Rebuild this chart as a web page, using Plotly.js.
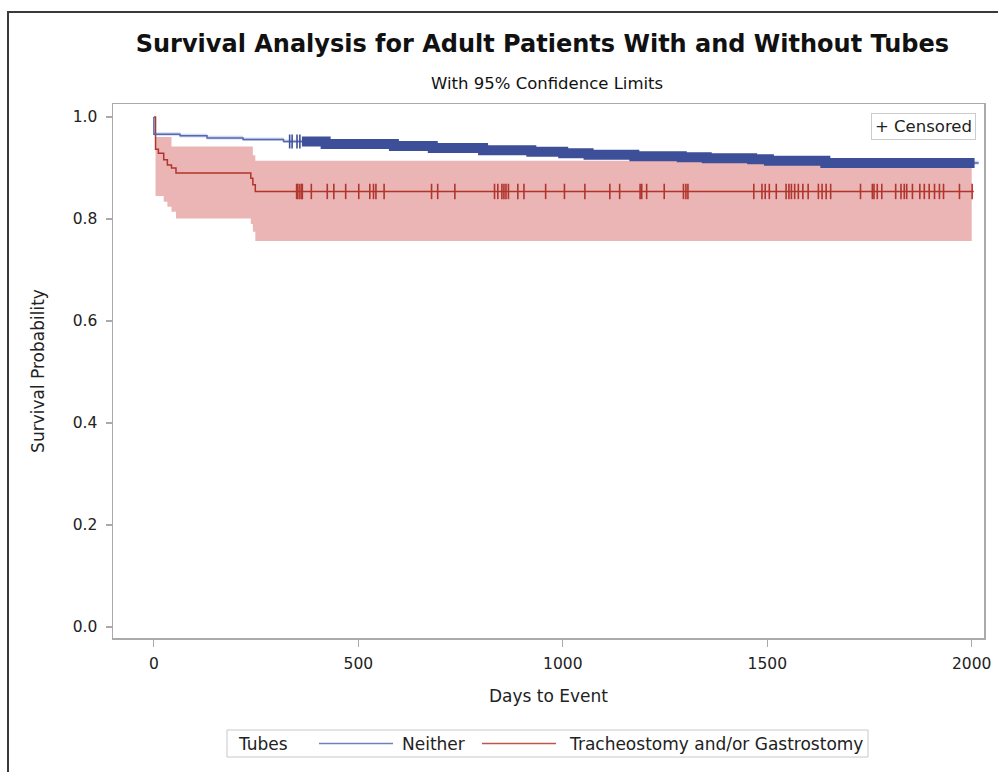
<!DOCTYPE html>
<html>
<head>
<meta charset="utf-8">
<script src="https://cdn.plot.ly/plotly-3.0.1.min.js"></script>
<style>
  html, body { margin: 0; padding: 0; background: #fff; }
  #wrap { position: relative; width: 998px; height: 772px; overflow: hidden; }
  #chart { width: 998px; height: 772px; }
  #frame { position: absolute; left: 7px; top: 11px; width: 1200px; height: 900px;
           border-left: 2px solid #3a3a3a; border-top: 2px solid #3a3a3a; pointer-events: none; }
</style>
</head>
<body>
<div id="wrap"><div id="chart"></div><div id="frame"></div></div>
<script>
// ---- Tracheostomy and/or Gastrostomy (red) ----
const redTime  = [0, 4, 11, 24, 33, 43, 54, 237, 242, 248];
const redSurv  = [1.0, 0.937, 0.929, 0.916, 0.906, 0.900, 0.890, 0.880, 0.867, 0.854];
const redUpper = [1.0, 0.961, 0.961, 0.961, 0.961, 0.942, 0.942, 0.942, 0.925, 0.914];
const redLower = [1.0, 0.845, 0.845, 0.834, 0.824, 0.814, 0.801, 0.790, 0.775, 0.757];
const redBandEnd = 2000;
const redLineEnd = 2005;
const redCensor = [349, 352, 357, 362, 363, 385, 424, 440, 469, 501, 528, 537, 543, 563,
  679, 694, 736, 833, 841, 851, 856, 861, 867, 890, 905, 958, 1004, 1054, 1115, 1139,
  1189, 1193, 1205, 1248, 1295, 1301, 1306, 1467, 1487, 1495, 1505, 1522, 1546, 1553,
  1559, 1567, 1576, 1587, 1600, 1625, 1634, 1644, 1655, 1728, 1757, 1761, 1769, 1780,
  1814, 1827, 1835, 1841, 1855, 1873, 1884, 1896, 1909, 1921, 1931, 1970, 2001];

// ---- Neither (blue) ----
const blueTime  = [0, 0, 64, 130, 218, 317, 420, 587, 682, 805, 923, 1001, 1063, 1175, 1291, 1352, 1463, 1504, 1642];
const blueSurv  = [1.0, 0.966, 0.963, 0.959, 0.956, 0.952, 0.947, 0.943, 0.939, 0.935, 0.932, 0.929, 0.926, 0.923, 0.921, 0.919, 0.917, 0.914, 0.910];
const blueUpper = [1.0, 0.970, 0.967, 0.963, 0.960, 0.956, 0.951, 0.947, 0.943, 0.939, 0.936, 0.933, 0.930, 0.927, 0.925, 0.923, 0.921, 0.918, 0.914];
const blueLower = [1.0, 0.963, 0.960, 0.956, 0.953, 0.949, 0.944, 0.940, 0.936, 0.932, 0.929, 0.926, 0.923, 0.920, 0.918, 0.916, 0.914, 0.911, 0.907];
const blueLineEnd = 2017;
const blueCensorSparse = [332, 338, 350, 357];
const blueDenseCensorFrom = 362;   // censor marks are continuous from here on
const blueDenseCensorTo = 2007;

// ---- Text ----
const titleText = "Survival Analysis for Adult Patients With and Without Tubes";
const subtitleText = "With 95% Confidence Limits";
const xTitle = "Days to Event";
const yTitle = "Survival Probability";
const legendTitle = "Tubes";
const groupNames = ["Neither", "Tracheostomy and/or Gastrostomy"];
const xTicks = [0, 500, 1000, 1500, 2000];
const yTicks = [0.0, 0.2, 0.4, 0.6, 0.8, 1.0];

function stepAt(times, vals, t) {
  let v = vals[0];
  for (let i = 0; i < times.length; i++) { if (times[i] <= t) v = vals[i]; }
  return v;
}
function extend(times, vals, tEnd) {
  return { x: times.concat([tEnd]), y: vals.concat([vals[vals.length - 1]]) };
}
function segment(times, vals, t0, t1) {
  const x = [t0], y = [stepAt(times, vals, t0)];
  for (let i = 0; i < times.length; i++) {
    if (times[i] > t0 && times[i] < t1) { x.push(times[i]); y.push(vals[i]); }
  }
  x.push(t1); y.push(stepAt(times, vals, t1));
  return { x, y };
}

const BLUE = "#3d4f98";
const BLUE_THIN = "#5469b3";
const BLUE_LEG = "#6f82c0";
const RED = "#b0352b";
const RED_LEG = "#c0554c";

const rl = extend(redTime, redLower, redBandEnd);
const ru = extend(redTime, redUpper, redBandEnd);
const bl = extend(blueTime, blueLower, blueLineEnd);
const bu = extend(blueTime, blueUpper, blueLineEnd);
const rs = extend(redTime, redSurv, redLineEnd);
const bs = extend(blueTime, blueSurv, blueLineEnd);
const bd = segment(blueTime, blueSurv, blueDenseCensorFrom, blueDenseCensorTo);

const traces = [
  { x: rl.x, y: rl.y, mode: "lines", line: { shape: "hv", width: 0 }, hoverinfo: "skip" },
  { x: ru.x, y: ru.y, mode: "lines", line: { shape: "hv", width: 0 }, fill: "tonexty",
    fillcolor: "rgba(220,120,120,0.55)", hoverinfo: "skip" },
  { x: bl.x, y: bl.y, mode: "lines", line: { shape: "hv", width: 0 }, hoverinfo: "skip" },
  { x: bu.x, y: bu.y, mode: "lines", line: { shape: "hv", width: 0 }, fill: "tonexty",
    fillcolor: "rgba(150,170,220,0.45)", hoverinfo: "skip" },
  { x: rs.x, y: rs.y, mode: "lines", name: groupNames[1], line: { shape: "hv", width: 1.5, color: RED } },
  { x: bs.x, y: bs.y, mode: "lines", name: groupNames[0], line: { shape: "hv", width: 1.5, color: BLUE_THIN } },
  { x: bd.x, y: bd.y, mode: "lines", line: { shape: "hv", width: 10, color: BLUE }, hoverinfo: "skip" },
  { x: redCensor, y: redCensor.map(t => stepAt(redTime, redSurv, t)), mode: "markers",
    marker: { symbol: "line-ns", size: 11, line: { width: 1.6, color: RED } } },
  { x: blueCensorSparse, y: blueCensorSparse.map(t => stepAt(blueTime, blueSurv, t)), mode: "markers",
    marker: { symbol: "line-ns", size: 10, line: { width: 1.6, color: BLUE } } }
];

// paper-coordinate helpers for the legend block below the plot (plot area: x 113..984, y 104..638)
const PX = px => (px - 113) / 871;
const PY = py => (638 - py) / 534;
const legY = PY(743.5);
const legFont = { size: 17, color: "#222" };

const FONT = "DejaVu Sans, Liberation Sans, Arial, sans-serif";
const layout = {
  width: 998, height: 772,
  margin: { l: 113, r: 14, t: 104, b: 134 },
  paper_bgcolor: "#fff", plot_bgcolor: "#fff",
  showlegend: false,
  font: { family: FONT, size: 16, color: "#222" },
  title: { text: "<b>" + titleText + "</b>", font: { family: FONT, size: 24, color: "#111" },
           x: 0.5435, xanchor: "center", xref: "container", y: 1 - 44 / 772, yanchor: "middle", yref: "container" },
  xaxis: {
    range: [-100, 2030], tickvals: xTicks, ticktext: xTicks.map(String),
    showline: true, mirror: true, linecolor: "#aaaaaa", linewidth: 1.5,
    ticks: "outside", ticklen: 7, tickcolor: "#aaaaaa", tickwidth: 1.2, ticklabelstandoff: 4,
    showgrid: false, zeroline: false, tickfont: { size: 15.5, color: "#222" },
    title: { text: xTitle, font: { size: 17, color: "#222" }, standoff: 18 }
  },
  yaxis: {
    range: [-0.0216, 1.0255], tickvals: yTicks, ticktext: yTicks.map(v => v.toFixed(1)),
    showline: true, mirror: true, linecolor: "#aaaaaa", linewidth: 1.5,
    ticks: "outside", ticklen: 6, tickcolor: "#aaaaaa", tickwidth: 1.2, ticklabelstandoff: 5,
    showgrid: false, zeroline: false, tickfont: { size: 15.5, color: "#222" },
    title: { text: yTitle, font: { size: 17, color: "#222" }, standoff: 24 }
  },
  shapes: [
    { type: "rect", xref: "paper", yref: "paper", x0: PX(227), x1: PX(868), y0: PY(730), y1: PY(757),
      line: { color: "#c8c8c8", width: 1 }, fillcolor: "#fff" },
    { type: "line", xref: "paper", yref: "paper", x0: PX(319), x1: PX(393), y0: legY, y1: legY,
      line: { color: BLUE_LEG, width: 1.5 } },
    { type: "line", xref: "paper", yref: "paper", x0: PX(482), x1: PX(556), y0: legY, y1: legY,
      line: { color: RED_LEG, width: 1.5 } }
  ],
  annotations: [
    { text: subtitleText, xref: "paper", yref: "paper", x: PX(546.5), y: PY(83),
      xanchor: "center", yanchor: "middle", showarrow: false, font: { size: 16.5, color: "#111" } },
    { text: "+ Censored", xref: "paper", yref: "paper", x: 0.9908, y: 0.983,
      xanchor: "right", yanchor: "top", showarrow: false, font: { size: 16.5, color: "#222" },
      bordercolor: "#cccccc", borderwidth: 1, borderpad: 3, bgcolor: "#fff" },
    { text: legendTitle, xref: "paper", yref: "paper", x: PX(236), y: legY,
      xanchor: "left", yanchor: "middle", showarrow: false, font: legFont },
    { text: groupNames[0], xref: "paper", yref: "paper", x: PX(400), y: legY,
      xanchor: "left", yanchor: "middle", showarrow: false, font: legFont },
    { text: groupNames[1], xref: "paper", yref: "paper", x: PX(567), y: legY,
      xanchor: "left", yanchor: "middle", showarrow: false, font: legFont }
  ]
};

Plotly.newPlot("chart", traces, layout, { displayModeBar: false, staticPlot: true });
</script>
</body>
</html>
